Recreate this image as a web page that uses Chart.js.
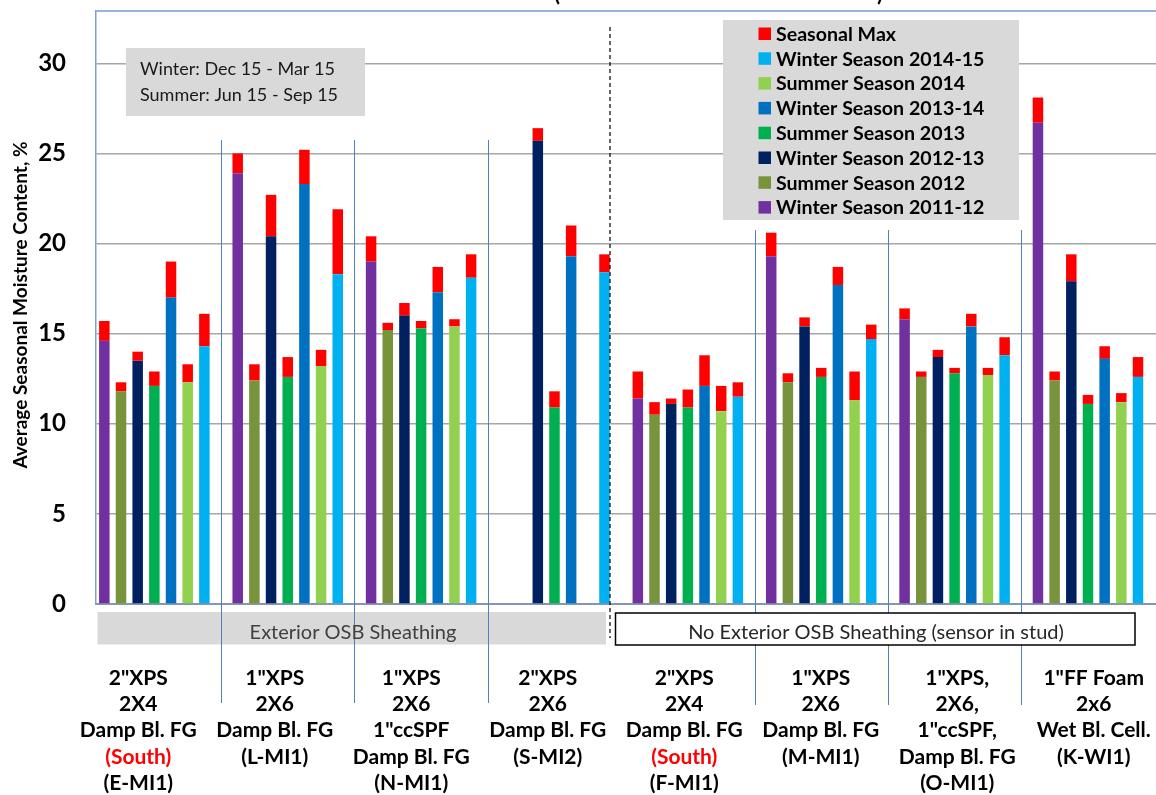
<!DOCTYPE html>
<html>
<head>
<meta charset="utf-8">
<script src="https://cdn.jsdelivr.net/npm/chart.js@4.4.1/dist/chart.umd.min.js"></script>
<style>
  html, body { margin: 0; padding: 0; background: #fff; overflow: hidden; }
  #wrap { position: relative; width: 1163px; height: 795px; }
</style>
</head>
<body>
<div id="wrap"><canvas id="mc"></canvas></div>
<script>
// wall assemblies, left to right
const groupCodes = ['E-MI1', 'L-MI1', 'N-MI1', 'S-MI2', 'F-MI1', 'M-MI1', 'O-MI1', 'K-WI1'];
const groupLabels = [
  ['2"XPS', '2X4', 'Damp Bl. FG', '(South)', '(E-MI1)'],
  ['1"XPS', '2X6', 'Damp Bl. FG', '(L-MI1)'],
  ['1"XPS', '2X6', '1"ccSPF', 'Damp Bl. FG', '(N-MI1)'],
  ['2"XPS', '2X6', 'Damp Bl. FG', '(S-MI2)'],
  ['2"XPS', '2X4', 'Damp Bl. FG', '(South)', '(F-MI1)'],
  ['1"XPS', '2X6', 'Damp Bl. FG', '(M-MI1)'],
  ['1"XPS,', '2X6,', '1"ccSPF,', 'Damp Bl. FG', '(O-MI1)'],
  ['1"FF Foam', '2x6', 'Wet Bl. Cell.', '(K-WI1)']
];
const seasonNames = ['Winter Season 2011-12', 'Summer Season 2012', 'Winter Season 2012-13',
  'Summer Season 2013', 'Winter Season 2013-14', 'Summer Season 2014', 'Winter Season 2014-15'];

// average MC per season, one value per wall (null = no data)
const winter1112Avg = [14.6, 23.9, 19.0, null, 11.4, 19.3, 15.8, 26.7];
const summer2012Avg = [11.8, 12.4, 15.2, null, 10.5, 12.3, 12.6, 12.4];
const winter1213Avg = [13.5, 20.4, 16.0, 25.7, 11.1, 15.4, 13.7, 17.9];
const summer2013Avg = [12.1, 12.6, 15.3, 10.9, 10.9, 12.6, 12.8, 11.1];
const winter1314Avg = [17.0, 23.3, 17.3, 19.3, 12.1, 17.7, 15.4, 13.6];
const summer2014Avg = [12.3, 13.2, 15.4, null, 10.7, 11.3, 12.7, 11.2];
const winter1415Avg = [14.3, 18.3, 18.1, 18.4, 11.5, 14.7, 13.8, 12.6];

// seasonal maximum MC
const winter1112Max = [15.7, 25.0, 20.4, null, 12.9, 20.6, 16.4, 28.1];
const summer2012Max = [12.3, 13.3, 15.6, null, 11.2, 12.8, 12.9, 12.9];
const winter1213Max = [14.0, 22.7, 16.7, 26.4, 11.4, 15.9, 14.1, 19.4];
const summer2013Max = [12.9, 13.7, 15.7, 11.8, 11.9, 13.1, 13.1, 11.6];
const winter1314Max = [19.0, 25.2, 18.7, 21.0, 13.8, 18.7, 16.1, 14.3];
const summer2014Max = [13.3, 14.1, 15.8, null, 12.1, 12.9, 13.1, 11.7];
const winter1415Max = [16.1, 21.9, 19.4, 19.4, 12.3, 15.5, 14.8, 13.7];

const yTicks = [0, 5, 10, 15, 20, 25, 30];

const avgs = [winter1112Avg, summer2012Avg, winter1213Avg, summer2013Avg, winter1314Avg, summer2014Avg, winter1415Avg];
const maxs = [winter1112Max, summer2012Max, winter1213Max, summer2013Max, winter1314Max, summer2014Max, winter1415Max];
const seasonColors = ['#7030a0', '#77933c', '#002060', '#00b050', '#0070c0', '#92d050', '#00b0f0'];
const maxColor = '#ff0000';

// 8 slots per wall: 7 seasons + one empty gap column
const SLOTS = 8;
const labels = [];
groupCodes.forEach(g => { for (let s = 0; s < SLOTS; s++) labels.push(s < 7 ? g + ' ' + seasonNames[s] : ''); });

const datasets = avgs.map((arr, s) => {
  const data = labels.map(() => null);
  arr.forEach((v, g) => { data[g * SLOTS + s] = v; });
  return { label: seasonNames[s], data, backgroundColor: seasonColors[s], stack: 'mc' };
});
const maxData = labels.map(() => null);
maxs.forEach((arr, s) => arr.forEach((v, g) => {
  if (v !== null && avgs[s][g] !== null) maxData[g * SLOTS + s] = +(v - avgs[s][g]).toFixed(2);
}));
datasets.push({ label: 'Seasonal Max', data: maxData, backgroundColor: maxColor, stack: 'mc' });

const FONT = 'Lato, "Open Sans", sans-serif';
// the wall-label row sits on its own, slightly wider, band than the bars
const LABEL_LEFT = 70, LABEL_RIGHT = 1162;

function seg(ctx, x1, y1, x2, y2) { ctx.beginPath(); ctx.moveTo(x1, y1); ctx.lineTo(x2, y2); ctx.stroke(); }

const overlay = {
  id: 'overlay',
  afterDraw(chart) {
    const { ctx, chartArea: a, scales: { x } } = chart;
    const slot = x.getPixelForValue(1) - x.getPixelForValue(0);
    ctx.save();

    // plot top border
    ctx.strokeStyle = '#95b3d7'; ctx.lineWidth = 2;
    seg(ctx, a.left, a.top, a.right, a.top);

    // cut-off title (only the bottoms of the brackets remain)
    ctx.fillStyle = '#000'; ctx.font = 'bold 22px ' + FONT; ctx.textAlign = 'center'; ctx.textBaseline = 'alphabetic';
    ctx.fillText('(', 557, 1); ctx.fillText(')', 880, 1);

    // y-axis title
    ctx.save();
    ctx.translate(21, 305); ctx.rotate(-Math.PI / 2);
    ctx.font = 'bold 19px ' + FONT; ctx.textBaseline = 'middle';
    ctx.fillText('Average Seasonal Moisture Content, %', 0, 0);
    ctx.restore();

    // season note box
    ctx.fillStyle = '#d9d9d9'; ctx.fillRect(126, 48, 239, 68);
    ctx.fillStyle = '#1a1a1a'; ctx.font = '18px ' + FONT; ctx.textAlign = 'left'; ctx.textBaseline = 'middle';
    ctx.fillText('Winter: Dec 15 - Mar 15', 140, 69);
    ctx.fillText('Summer: Jun 15 - Sep 15', 140, 95);

    // legend box
    ctx.fillStyle = '#d9d9d9'; ctx.fillRect(723, 20, 296, 200);
    const legendItems = [{ name: 'Seasonal Max', color: maxColor }];
    for (let s = seasonNames.length - 1; s >= 0; s--) legendItems.push({ name: seasonNames[s], color: seasonColors[s] });
    ctx.font = 'bold 19.6px ' + FONT;
    legendItems.forEach((it, i) => {
      const cy = 33.5 + i * 24.8;
      ctx.fillStyle = it.color; ctx.fillRect(758.5, cy - 6, 12.5, 12.5);
      ctx.fillStyle = '#000'; ctx.fillText(it.name, 776, cy + 1);
    });

    // dashed divider between sheathing types
    const xDash = x.getPixelForValue(30) + slot * 0.33;
    ctx.strokeStyle = '#000'; ctx.lineWidth = 1.2; ctx.setLineDash([4, 3]);
    seg(ctx, xDash, 27, xDash, 638);
    ctx.setLineDash([]);

    // grey band
    ctx.fillStyle = '#d9d9d9'; ctx.fillRect(a.left + 1.5, 612, xDash - 4 - a.left - 1.5, 32.5);

    // wall separators
    ctx.strokeStyle = '#4f81bd'; ctx.lineWidth = 1;
    [0, 1, 2].forEach(g => { const px = Math.round(x.getPixelForValue(g * SLOTS + 7)) + 0.5; seg(ctx, px, 140, px, 703); });
    [4, 5, 6].forEach(g => { const px = Math.round(x.getPixelForValue(g * SLOTS + 7)) + 0.5; seg(ctx, px, 230, px, 705); });

    // white box
    ctx.fillStyle = '#fff'; ctx.fillRect(615.5, 613, 519.5, 32);
    ctx.strokeStyle = '#000'; ctx.lineWidth = 1.5; ctx.strokeRect(615.5, 613, 519.5, 32);

    ctx.font = '20px ' + FONT; ctx.textAlign = 'center'; ctx.fillStyle = '#404040';
    ctx.fillText('Exterior OSB Sheathing', (a.left + xDash) / 2, 633);
    ctx.fillStyle = '#262626';
    ctx.fillText('No Exterior OSB Sheathing (sensor in stud)', 876, 633);

    // wall labels
    ctx.font = 'bold 21px ' + FONT;
    const lw = (LABEL_RIGHT - LABEL_LEFT) / groupLabels.length;
    groupLabels.forEach((lines, g) => {
      const cx = LABEL_LEFT + (g + 0.5) * lw;
      lines.forEach((t, i) => {
        ctx.fillStyle = t === '(South)' ? '#ff0000' : '#000';
        ctx.fillText(t, cx, 678 + i * 26.3);
      });
    });
    ctx.restore();
  }
};

new Chart(document.getElementById('mc'), {
  type: 'bar',
  data: { labels, datasets },
  options: {
    responsive: true,
    maintainAspectRatio: false,
    animation: false,
    layout: { padding: { top: 11, right: 0, bottom: 0, left: 0 } },
    datasets: { bar: { barPercentage: 0.63, categoryPercentage: 1, borderWidth: 0 } },
    plugins: { legend: { display: false }, tooltip: { enabled: false } },
    scales: {
      x: {
        stacked: true,
        grid: { display: false },
        ticks: { display: false },
        border: { color: '#8496b0', width: 2 },
        afterFit: s => { s.height = 191; }
      },
      y: {
        stacked: true,
        min: 0,
        max: 32.9,
        afterBuildTicks: s => { s.ticks = yTicks.map(v => ({ value: v })); },
        ticks: { padding: 30, color: '#000', font: { family: FONT, weight: 'bold', size: 24 } },
        grid: { color: '#a6a6a6', lineWidth: 1.5, drawTicks: false },
        border: { color: '#7f9fd0', width: 1.5 },
        afterFit: s => { s.width = 96; s.paddingTop = 0; s.paddingBottom = 0; }
      }
    }
  },
  plugins: [overlay]
});
</script>
</body>
</html>
